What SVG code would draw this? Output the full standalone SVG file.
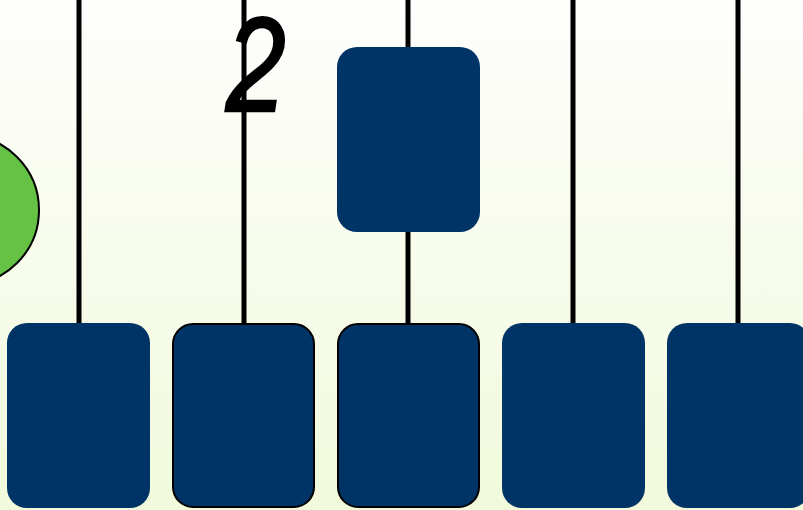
<svg xmlns="http://www.w3.org/2000/svg" width="803" height="510" viewBox="0 0 803 510">
  <defs>
    <linearGradient id="bg" x1="0" y1="0" x2="0" y2="1">
      <stop offset="0" stop-color="#fefefd"/>
      <stop offset="1" stop-color="#f1fadb"/>
    </linearGradient>
    <style>
      .wire { stroke: #000; stroke-width: 5; fill: none; }
      .card { fill: #003366; }
      .card.edged { stroke: #000; stroke-width: 2; }
      .digit { font-family: "Liberation Sans", Arial, sans-serif; font-style: italic; font-weight: normal; font-size: 134px; fill: #000; stroke: #000; stroke-width: 2.5; }
    </style>
  </defs>

  <rect width="803" height="510" fill="url(#bg)"/>

  <!-- vertical wires -->
  <g id="connectors">
    <line class="wire" x1="79" y1="0" x2="79" y2="324"/>
    <line class="wire" x1="244" y1="0" x2="244" y2="324"/>
    <line class="wire" x1="408" y1="0" x2="408" y2="324"/>
    <line class="wire" x1="573" y1="0" x2="573" y2="324"/>
    <line class="wire" x1="738" y1="0" x2="738" y2="324"/>
  </g>

  <g id="circle">
    <circle cx="-36" cy="210" r="75" fill="#66c244" stroke="#000" stroke-width="2"/>
  </g>

  <g id="label-2">
    <text class="digit" transform="translate(226 111) scale(0.8 1)" x="0" y="0">2</text>
  </g>

  <g id="card-top">
    <rect class="card" x="337" y="47" width="143" height="185" rx="20"/>
  </g>

  <g id="card-1"><rect class="card" x="7" y="323" width="143" height="185" rx="20"/></g>
  <g id="card-2"><rect class="card edged" x="173" y="324" width="141" height="183" rx="20"/></g>
  <g id="card-3"><rect class="card edged" x="338" y="324" width="141" height="183" rx="20"/></g>
  <g id="card-4"><rect class="card" x="502" y="323" width="143" height="185" rx="20"/></g>
  <g id="card-5"><rect class="card" x="667" y="323" width="143" height="185" rx="20"/></g>
</svg>
